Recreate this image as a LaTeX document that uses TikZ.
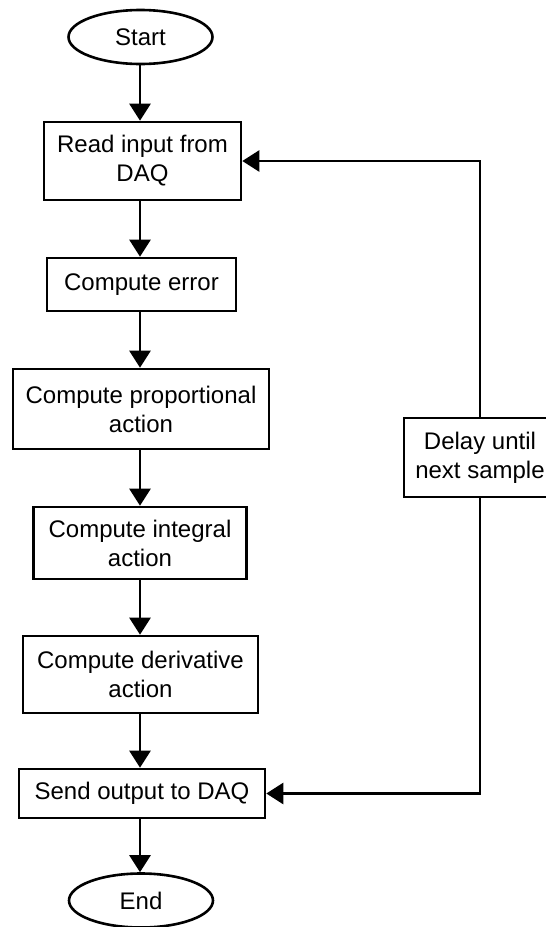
\documentclass[tikz,border=0pt]{standalone}
\usepackage{fontspec}
\setmainfont{Liberation Sans}
\usetikzlibrary{shapes.geometric,arrows.meta}
\begin{document}
\begin{tikzpicture}[x=1pt,y=-1pt,
  every node/.style={font=\fontsize{24}{29}\selectfont, align=center, inner sep=0pt},
  box/.style={draw, line width=2.6pt, rectangle},
  term/.style={draw, line width=2.6pt, ellipse, minimum width=144pt, minimum height=54pt},
  arr/.style={line width=2.6pt, -{Triangle[length=17pt,width=21pt]}}]
\clip (0,0) rectangle (546,927);
\useasboundingbox (0,0) rectangle (546,927);
\node[term] (start) at (140.5,37) {Start};
\node[box, minimum width=197pt, minimum height=78pt] (b1) at (142.5,161) {Read input from\\DAQ};
\node[box, minimum width=189pt, minimum height=53pt] (b2) at (141.5,284.5) {Compute error};
\node[box, minimum width=256pt, minimum height=80pt] (b3) at (141,409) {Compute proportional\\action};
\node[box, minimum width=213pt, minimum height=72pt] (b4) at (140,543) {Compute integral\\action};
\node[box, minimum width=235pt, minimum height=77pt] (b5) at (140.5,674.5) {Compute derivative\\action};
\node[box, minimum width=246pt, minimum height=49pt] (b6) at (142,793.5) {Send output to DAQ};
\node[term] (end) at (141,900.5) {End};
\node[box, minimum width=152pt, minimum height=79pt] (delay) at (480,457.5) {Delay until\\next sample};
\coordinate (cx) at (140,0);
\draw[arr] (cx |- start.south) -- (cx |- b1.north);
\draw[arr] (cx |- b1.south) -- (cx |- b2.north);
\draw[arr] (cx |- b2.south) -- (cx |- b3.north);
\draw[arr] (cx |- b3.south) -- (cx |- b4.north);
\draw[arr] (cx |- b4.south) -- (cx |- b5.north);
\draw[arr] (cx |- b5.south) -- (cx |- b6.north);
\draw[arr] (cx |- b6.south) -- (cx |- end.north);
\draw[arr] (delay.north) |- (b1.east);
\draw[arr] (delay.south) |- (b6.east);
\end{tikzpicture}
\end{document}
